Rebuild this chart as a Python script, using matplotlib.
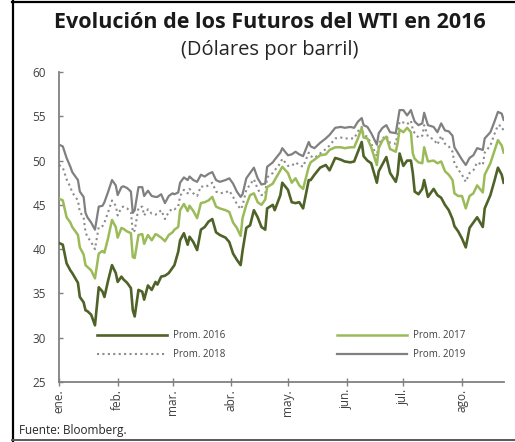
import numpy as np
import pandas as pd
import matplotlib
matplotlib.use("Agg")
import matplotlib.pyplot as plt
from matplotlib.lines import Line2D

plt.rcParams['font.family'] = ['Open Sans', 'DejaVu Sans']

# dias transcurridos desde el 1 de enero de 2016
dias = [0, 2, 4, 6, 7, 10, 11, 13, 14, 15,
        17, 19, 21, 23, 24, 26, 28, 30, 31, 33,
        34, 36, 38, 39, 40, 42, 44, 45, 47, 49,
        51, 52, 54, 56, 58, 60, 61, 63, 64, 66,
        68, 69, 71, 73, 75, 77, 79, 81, 83, 85,
        88, 90, 92, 94, 96, 97, 99, 101, 103, 105,
        107, 109, 110, 113, 114, 117, 118, 121, 123, 125,
        127, 129, 132, 133, 135, 138, 141, 143, 146, 149,
        151, 154, 156, 158, 160, 161, 163, 165, 168, 169,
        171, 173, 175, 178, 179, 180, 182, 184, 186, 187,
        188, 190, 192, 193, 195, 198, 200, 202, 204, 206,
        208, 209, 211, 213, 215, 217, 219, 221, 224, 225,
        228, 230, 232, 234, 235]

prom_2016 = [40.7, 40.5, 38.4, 37.6, 37.3, 36.2, 34.6, 34.0, 33.1, 33.0,
             32.6, 31.4, 35.7, 35.2, 34.6, 36.5, 38.2, 37.3, 36.3, 36.9,
             36.6, 36.2, 35.6, 33.1, 32.4, 35.4, 35.2, 34.3, 35.9, 35.4,
             36.3, 36.0, 36.9, 37.0, 37.3, 37.9, 38.2, 39.7, 41.0, 41.8,
             40.5, 41.4, 40.8, 39.9, 42.2, 42.5, 43.1, 43.4, 41.9, 41.6,
             41.3, 40.8, 39.5, 38.8, 38.2, 39.8, 42.4, 42.7, 44.4, 43.6,
             42.5, 42.2, 44.6, 45.0, 44.4, 46.1, 47.5, 46.7, 45.3, 45.2,
             45.3, 44.6, 47.8, 47.8, 48.4, 49.2, 49.5, 48.9, 50.3, 50.1,
             49.9, 49.8, 49.9, 51.0, 52.1, 50.5, 50.0, 49.7, 47.5, 48.8,
             49.6, 50.4, 48.6, 47.6, 48.5, 50.8, 49.4, 50.0, 50.0, 48.6,
             46.5, 46.2, 46.8, 47.8, 45.9, 46.8, 46.1, 45.8, 45.0, 44.4,
             43.4, 42.6, 42.0, 41.2, 40.2, 42.4, 43.0, 43.6, 42.5, 44.6,
             46.1, 47.6, 49.2, 48.4, 47.5]

prom_2017 = [45.7, 45.5, 43.6, 43.0, 42.5, 41.6, 40.2, 39.4, 38.2, 38.0,
             37.6, 36.7, 39.5, 39.8, 39.6, 41.3, 43.3, 42.5, 41.3, 42.4,
             42.3, 42.0, 41.8, 39.1, 39.0, 41.6, 41.7, 40.6, 41.6, 41.0,
             41.7, 41.6, 41.3, 40.9, 41.6, 41.9, 42.2, 42.5, 44.4, 45.1,
             44.3, 44.9, 44.3, 43.5, 45.2, 45.3, 45.5, 45.9, 44.8, 44.6,
             44.4, 44.2, 43.0, 42.4, 41.5, 43.5, 45.0, 46.1, 46.3, 45.3,
             45.0, 45.6, 47.0, 47.4, 47.8, 48.9, 49.3, 48.6, 47.5, 48.0,
             47.2, 46.8, 49.3, 49.8, 50.1, 50.6, 50.7, 51.2, 51.5, 51.5,
             51.4, 51.5, 51.5, 52.5, 53.7, 52.6, 52.5, 51.5, 49.5, 51.4,
             52.3, 52.7, 51.3, 51.0, 52.0, 53.5, 53.2, 53.7, 53.2, 50.8,
             50.2, 49.8, 49.7, 51.5, 49.9, 50.0, 49.7, 49.9, 48.8, 48.4,
             47.8, 46.3, 46.0, 46.0, 44.6, 46.0, 46.3, 47.2, 46.4, 48.4,
             49.7, 51.0, 52.3, 51.7, 50.9]

prom_2018 = [49.5, 49.2, 47.9, 47.0, 46.4, 45.5, 44.2, 43.6, 41.9, 41.4,
             40.8, 40.0, 42.5, 42.6, 43.0, 44.2, 45.5, 44.9, 43.8, 44.7,
             44.8, 44.6, 44.2, 41.9, 42.1, 44.7, 44.8, 43.8, 44.5, 44.0,
             43.9, 44.0, 44.4, 43.4, 44.2, 44.6, 44.5, 44.8, 46.0, 46.7,
             46.3, 46.8, 46.3, 46.0, 47.1, 47.0, 47.2, 47.5, 46.5, 46.3,
             46.4, 46.6, 45.9, 45.1, 44.5, 44.9, 46.7, 47.3, 47.9, 46.8,
             46.1, 46.2, 48.1, 48.6, 48.9, 49.7, 50.2, 49.4, 49.4, 49.8,
             49.5, 49.3, 50.9, 50.5, 50.3, 50.8, 51.3, 51.7, 52.5, 52.6,
             52.5, 52.5, 52.5, 53.3, 53.8, 52.9, 52.7, 51.9, 50.5, 51.9,
             52.5, 52.8, 52.0, 51.9, 53.1, 54.4, 54.3, 54.1, 54.5, 53.5,
             53.1, 52.6, 52.8, 54.0, 52.7, 52.4, 51.8, 52.8, 51.9, 51.6,
             51.0, 49.7, 49.0, 48.4, 47.6, 48.6, 48.9, 49.8, 49.5, 50.9,
             51.7, 52.9, 54.0, 53.9, 53.3]

prom_2019 = [51.8, 51.6, 50.3, 49.3, 48.7, 47.8, 46.5, 45.9, 44.1, 43.6,
             43.0, 42.2, 44.8, 44.9, 45.3, 46.5, 47.8, 47.2, 46.1, 47.0,
             47.1, 46.9, 46.5, 44.1, 44.4, 47.0, 47.0, 46.0, 46.6, 46.0,
             45.9, 45.9, 46.2, 45.2, 46.0, 46.3, 46.2, 46.4, 47.5, 48.1,
             47.8, 48.2, 47.8, 47.6, 48.4, 48.2, 48.5, 48.7, 47.8, 47.6,
             47.8, 48.0, 47.4, 46.5, 45.9, 46.2, 48.0, 48.6, 49.2, 48.0,
             47.3, 47.4, 49.3, 49.8, 50.1, 50.9, 51.4, 50.6, 50.7, 51.0,
             50.7, 50.5, 52.1, 51.6, 51.4, 52.0, 52.5, 52.9, 53.7, 53.8,
             53.7, 53.8, 53.7, 54.4, 54.8, 54.0, 53.8, 53.1, 51.8, 53.1,
             53.7, 54.0, 53.2, 53.1, 54.4, 55.7, 55.7, 55.1, 55.7, 55.0,
             54.4, 54.0, 54.2, 55.4, 54.0, 53.8, 53.2, 54.2, 53.4, 53.3,
             52.8, 51.5, 50.8, 50.1, 49.5, 50.3, 50.6, 51.4, 51.2, 52.5,
             53.2, 54.3, 55.5, 55.3, 54.6]

meses = ['ene.', 'feb.', 'mar.', 'abr.', 'may.', 'jun.', 'jul.', 'ago.']

fechas = pd.Timestamp('2016-01-01') + pd.to_timedelta(dias, unit='D')
inicio_mes = pd.date_range('2016-01-01', periods=len(meses), freq='MS')

fig = plt.figure(figsize=(5.15, 4.42), dpi=100)
ax = fig.add_axes([0.1146, 0.1357, 0.8633, 0.7014])

ax.plot(fechas, prom_2019, color='#808080', lw=1.6, label='Prom. 2019', zorder=2)
ax.plot(fechas, prom_2018, color='#8c8c8c', lw=1.5, ls=(0, (1, 1.6)), label='Prom. 2018', zorder=2)
ax.plot(fechas, prom_2017, color='#9bbb59', lw=1.8, label='Prom. 2017', zorder=3)
ax.plot(fechas, prom_2016, color='#4f6228', lw=1.9, label='Prom. 2016', zorder=4)

ax.set_ylim(25, 60)
ax.set_yticks(np.arange(25, 61, 5))
ax.set_xlim(fechas[0], fechas[-1])
ax.set_xticks(inicio_mes)
ax.set_xticklabels(meses, rotation=90, va='top', ha='center')

for s in ['top', 'right']:
    ax.spines[s].set_visible(False)
for s in ['left', 'bottom']:
    ax.spines[s].set_color('#808080')
    ax.spines[s].set_linewidth(1.3)
ax.tick_params(axis='y', direction='in', length=3, width=1, color='#808080',
               labelsize=8.5, labelcolor='#404040', pad=9.5)
ax.tick_params(axis='x', direction='inout', length=6, width=1, color='#808080',
               labelsize=8.5, labelcolor='#404040', pad=2)

handles, labels = ax.get_legend_handles_labels()
orden = [3, 1, 2, 0]
ax.legend([handles[i] for i in orden], [labels[i] for i in orden],
          ncol=2, frameon=False, fontsize=7, handlelength=7.2,
          handletextpad=0.6, columnspacing=11.5, labelspacing=0.85,
          loc='upper left', bbox_to_anchor=(0.085, 0.168),
          borderpad=0, borderaxespad=0, labelcolor='#404040')

fig.text(0.524, 0.948, 'Evolución de los Futuros del WTI en 2016',
         ha='center', va='center', fontsize=15.5, fontweight='bold', color='#1a1a1a')
fig.text(0.524, 0.887, '(Dólares por barril)', ha='center', va='center',
         fontsize=14.5, color='#262626')
fig.text(0.037, 0.027, 'Fuente: Bloomberg.', ha='left', va='center',
         fontsize=8.5, color='#262626')

# marco del recuadro
fig.add_artist(Line2D([12.5 / 515, 12.5 / 515], [0.003, 0.997], transform=fig.transFigure,
                      color='black', lw=1.6))
fig.add_artist(Line2D([12 / 515, 1], [0.996, 0.996], transform=fig.transFigure,
                      color='black', lw=1.6))
fig.add_artist(Line2D([12 / 515, 1], [0.004, 0.004], transform=fig.transFigure,
                      color='#595959', lw=1.4))

fig.savefig('out.png', dpi=100)
